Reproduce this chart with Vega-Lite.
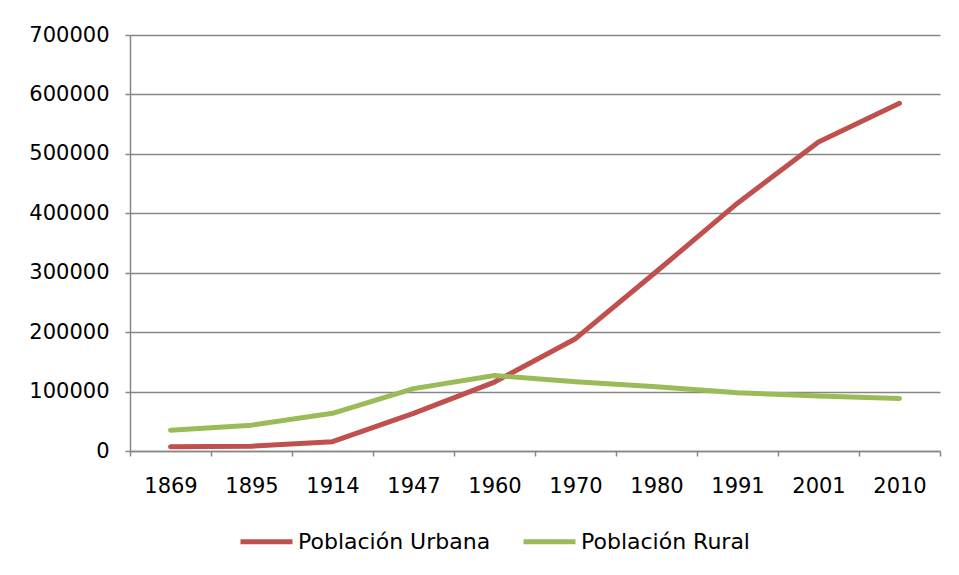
{
  "$schema": "https://vega.github.io/schema/vega-lite/v6.json",
  "autosize": {"type": "none"},
  "width": 810,
  "height": 416,
  "padding": {"left": 130, "top": 35, "right": 19, "bottom": 124},
  "background": "white",
  "config": {
    "font": "DejaVu Sans",
    "view": {"stroke": null},
    "axis": {
      "labelFont": "DejaVu Sans",
      "labelFontSize": 21,
      "labelColor": "#000000",
      "domainColor": "#868686",
      "tickColor": "#868686",
      "gridColor": "#868686",
      "domainWidth": 1.5,
      "tickWidth": 1.5,
      "gridWidth": 1.5,
      "tickSize": 5,
      "title": null
    }
  },
  "data": {
    "values": [
      {"year": "1869", "serie": "Población Urbana", "value": 7000},
      {"year": "1895", "serie": "Población Urbana", "value": 8000},
      {"year": "1914", "serie": "Población Urbana", "value": 15600},
      {"year": "1947", "serie": "Población Urbana", "value": 63400},
      {"year": "1960", "serie": "Población Urbana", "value": 116000},
      {"year": "1970", "serie": "Población Urbana", "value": 189000},
      {"year": "1980", "serie": "Población Urbana", "value": 302000},
      {"year": "1991", "serie": "Población Urbana", "value": 417000},
      {"year": "2001", "serie": "Población Urbana", "value": 520000},
      {"year": "2010", "serie": "Población Urbana", "value": 585000},
      {"year": "1869", "serie": "Población Rural", "value": 35000},
      {"year": "1895", "serie": "Población Rural", "value": 43500},
      {"year": "1914", "serie": "Población Rural", "value": 63400},
      {"year": "1947", "serie": "Población Rural", "value": 105000},
      {"year": "1960", "serie": "Población Rural", "value": 127000},
      {"year": "1970", "serie": "Población Rural", "value": 116500},
      {"year": "1980", "serie": "Población Rural", "value": 108000},
      {"year": "1991", "serie": "Población Rural", "value": 98000},
      {"year": "2001", "serie": "Población Rural", "value": 92500},
      {"year": "2010", "serie": "Población Rural", "value": 88500}
    ]
  },
  "mark": {"type": "line", "strokeWidth": 5, "strokeCap": "round", "strokeJoin": "round"},
  "encoding": {
    "x": {
      "field": "year",
      "type": "ordinal",
      "bandPosition": 0.5,
      "scale": {"type": "band", "paddingInner": 0, "paddingOuter": 0},
      "axis": {"labelAngle": 0, "tickBand": "extent", "labelPadding": 19, "grid": false}
    },
    "y": {
      "field": "value",
      "type": "quantitative",
      "scale": {"domain": [0, 700000], "nice": false},
      "axis": {"values": [0, 100000, 200000, 300000, 400000, 500000, 600000, 700000], "format": "d", "grid": true, "labelPadding": 16}
    },
    "color": {
      "field": "serie",
      "type": "nominal",
      "scale": {"domain": ["Población Urbana", "Población Rural"], "range": ["#C0504D", "#9BBB59"]},
      "legend": {
        "title": null,
        "orient": "none",
        "legendX": 108,
        "legendY": 478,
        "direction": "horizontal",
        "symbolType": "stroke",
        "symbolSize": 2704,
        "symbolStrokeWidth": 5,
        "labelFont": "DejaVu Sans",
        "labelFontSize": 22,
        "labelColor": "#000000",
        "labelOffset": 3,
        "labelLimit": 400,
        "columnPadding": 22
      }
    },
    "order": {"field": "year", "type": "ordinal"}
  }
}
